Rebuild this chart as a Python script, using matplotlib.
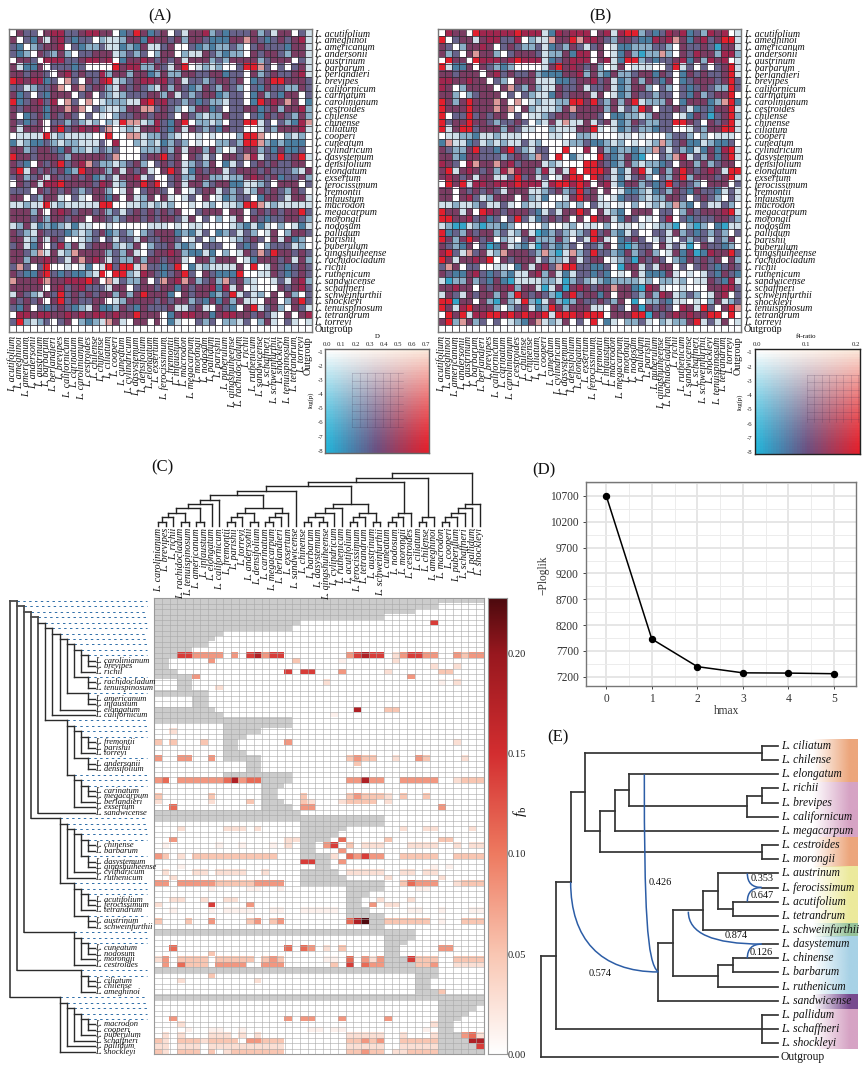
import numpy as np
import matplotlib
matplotlib.use("Agg")
import matplotlib.pyplot as plt
from matplotlib.colors import LinearSegmentedColormap, to_rgb
from matplotlib.patches import PathPatch
from matplotlib.path import Path

W, H = 868, 1066
SERIF = "Liberation Serif"
plt.rcParams["font.family"] = SERIF
plt.rcParams["mathtext.fontset"] = "custom"
plt.rcParams["mathtext.rm"] = SERIF
plt.rcParams["mathtext.it"] = SERIF + ":italic"

# ---------------------------------------------------------------- data
TAXA = ["L. acutifolium", "L. ameghinoi", "L. americanum", "L. andersonii", "L. austrinum",
        "L. barbarum", "L. berlandieri", "L. brevipes", "L. californicum", "L. carinatum",
        "L. carolinianum", "L. cestroides", "L. chilense", "L. chinense", "L. ciliatum",
        "L. cooperi", "L. cuneatum", "L. cylindricum", "L. dasystemum", "L. densifolium",
        "L. elongatum", "L. exsertum", "L. ferocissimum", "L. fremontii", "L. infaustum",
        "L. macrodon", "L. megacarpum", "L. morongii", "L. nodosum", "L. pallidum",
        "L. parishii", "L. puberulum", "L. qingshuiheense", "L. rachidocladum", "L. richii",
        "L. ruthenicum", "L. sandwicense", "L. schaffneri", "L. schweinfurthii", "L. shockleyi",
        "L. tenuispinosum", "L. tetrandrum", "L. torreyi", "Outgroup"]

CELL_COLORS = {"w": "#ffffff", "l": "#cfdfe9", "b": "#8aaec6", "s": "#4a7ea0", "p": "#67628a",
               "m": "#7a3c62", "r": "#a0264e", "x": "#e21f2d", "k": "#dc9a9a", "c": "#35a5c8"}

HEAT_A = [
 "wmppwmrrppm rrmmwspxmsp mwplmmrbpsp ppmbplmmwpl",
 "mwpsmlmrpsp pwbllbmmsrm mpmbmmpsssm mkmpspmpmrl",
 "pswbpmmrwps bbpllsbsmll pmwwpsbsbbp bwpmpppsmml",
 "psbwmpbmbwp pmmmlbpbpwb mmwbllmpbsb bwmpmmpbmml",
 "wmmpwrrrppm rrmrwsmmrmp mpmlmmmbpbm mmmbpmmmwpl",
 "mlssmwpppsp wwwwxmrrbbm plmxwlblbww pxxkpwpwpml",
 "mmpmmpwmrpm pprbmmbmmsb mbbmmppmmsp pwmbpmppmrl",
 "xrmrrspwkpw mprxlbpmrrm rpmlppbpmmp mwspmxxmmmp",
 "pplbppmkwmk pmmblmpmpbl mbmpsbmpbmp bwpsmppbbmp",
 "mspwpsmmmwp mwpblbpppmm bmlpbpmmsbp pwsmbpsmmwp",
 "xspmrprwkpw kwlbbbllrxm rppbpspbblp pwsxmrmkmws",
 "mpmmmsmmkmk wpbllbmmkkp mpbwbmmspwp pmmspmbmmrb",
 "mwspmsmpmpw pwlwbppmmpm mpwmpblbbmp pwpsmpmpbmb",
 "mpspmwppbpb lbwblxkklbr psmxwbblbwp pxxlpwpbsrk",
 "mlmmmwmxpmr mrpkwlblmmr psmlmpbpsmp pwwlpbmmmrl",
 "wllllxlblll lwwxwwkklbb pblwwlwlwww bxxkwwwblbw",
 "slbsspblbbl llpwrwwblbl sbpbwlwwbbp bxxkbsbsssw",
 "mmbpmmpsmbb lbpbpwwwbbb pbmlmmbmbwl pmmbpsmsspw",
 "xmmpmmmpbmm mmmpkwwwpmm xpmwmplpwmm pkrlppxpmxl",
 "mpswmpmxpmr kpbblbpmbwp mpmlbpbmwsl pwpmpmppmmw",
 "mxlmpmpmsbx mmmbmlmpmlw mxmlsmpmmlp mmmpmpppblm",
 "pmbpmlmppmp msbplmmrlpw wpmbbmmbblb bmrmpmsppmb",
 "wmpmlrrxmmm mprmlbmmxmx wpmlmmbpmms sllbpwmmmwp",
 "pppwmpmpmpb pmmbwlmwpmm pwmwlpmmlpb plbmpmpbmpw",
 "mmwpbmmlwpl wmmsmwmlbmw mlwlpwmwlsb ppwsmmplmml",
 "llbllxlblll llxxwwllblb lbwwlwlbwll bxxklblllll",
 "mmmbmwmrmpm mpmbplpmpmp mpmwwpmmmwm mwpmpmpmmxp",
 "mmmpmbmmpmm wmmpbpmmpmp mmplmwpwbwl mwmpsppmmpb",
 "lbmlsbsblsl lwwlwwwwwll lwlwllwwwwl bslslwbwlsl",
 "mpblmpppsbl bpmsbpbwbpm mmsbslpwsbp lpbwlmwbmmp",
 "mmlbmlmpwwl bpwplpplmpp mmpwlpwbwwl bpmpwmlmsbw",
 "pmlsmwprbml pmmmblbmwbp pmbsbwpppww pspwbppplbw",
 "mmpbklmlbkm mmmbpbmlwpm mrmbsslswbw lmpkpxmmpmp",
 "mmbmmrmplmk mrmlpbbmbmm pmmlwmmbmmm wlsmmmpmlmb",
 "pkpwpxwwlwl swlxpxxlkpp spxwslbllll mwxwlmpspmp",
 "mpssmxpspss blxwxxblrmp spmxpwmpsss xwwllmpspmp",
 "kmmmrkmmrrr xmwklpbbmwp kmrkmbpmbkp mblwwlplmrb",
 "mmmmmwmrpmr ppplmmwpmmp mmsmpmmrsrl mwlwwwmpmrp",
 "lmpblmpxpmp mpmmbmbmxmm mswmpmmsbpx lplbwmwmbwp",
 "mpmpmwmxpmp pmmwlbmmmmp mpmmbpsmsmb mllwmmwbmxp",
 "psmwpspmpsb lmssbmpsmpp pmllpmlwmps wmxlpmbwmpl",
 "wrrmrrmmrmr mrrmrmmxmmm wsmrrmmsmrr mmpmplwmwmr",
 "pxblbpwpmwb sblkmlwmmwm wslwwpbpwbb lpwbmlwplwl",
 "wwwwwwwwwww wwwwwwwwwww wwwwwwwwwww wwwwwwwwwww",
]

HEAT_B = [
 "wrmmwxrrrrr xrrrlsrmrrr wmrlrxxbpsp rmrspbrmrwl",
 "xwpmmlmrrpp rwbllkmmxkr rmpbmmpssrm rkmsmrpmxxl",
 "mpwbmmrmwpm pbbplspbmpl pmwlssbbbpp bwmppmpcmml",
 "mbpwmkmmbwp mmmplbbmsrr wmwlsmbcbbk bwmprmmbrrb",
 "wxmmwxrrrmr xrrrlspmrrr wmrlsxxbpsp pmrsmbrmrwl",
 "xlssmwmpbsb wwwwlmxmrmp mbwlmwlllww pxlpwpwpmxl",
 "mmpmmmwmrpm ppmbsssmmrb mbsmbbpmmsm pwsmpmppmxl",
 "rrmmrmmwpbw mmmlllsspmm rpmlsbmbmps mwspmmmpmxp",
 "rmwbmmmmwmk pbmbllmppml ppmlsbmmbwp bwpspmpbbxp",
 "mmbwbpmmmwp wpbllsmpmmm lmwlsbmppbp pwpsmbpmmxw",
 "xmbmxmmmkmw kwlbllbbxxm xpbmbmxlbbb mwsmmmsbkxs",
 "xmmmxmmmkmk wmblllbmkmm mmbmlpbxmwp pmplspsmmxl",
 "xwppxpmpmmw pwllbpmmpmm mpwssbblbmp pwlsmpcpmxb",
 "xpmmxmmpbpp mpwblmlkllm lpmlsbmpbbp pxxmpwmpmxl",
 "xlmxxpmmmbm pllwwblllmm xlwlsbpbbsp pwwlpbmmxxl",
 "wllbbsllbll lwwwwllwwbb lwwwllwlwww bppbwbwlllw",
 "skllsplblbl lplbwwwlbbp ssblbwlwlbk bpmsslbsspw",
 "mpbbmxppsmx pblppwwxwwr wmbsbbsbbkp lpbslsmsrxl",
 "mmbsmmpppbp mpbkpwxwslw wxpsbmscwwp bkrlpbmsmxl",
 "rmpwrkmmkmr pmmmlblwwwx xmpsbmblbbs pwmmbmbpmmw",
 "mxlmrmpmbrk rmmbrlmlxwx xxmlslmxlsm bmxmpmrmlxx",
 "mrmpmlmmllp xpmlpwlmxxw xmplslpmbwp bmxbmmmpmxl",
 "wxmxlrrmrrr xrrrlrxxrxr wmrlsmmbpsp xpmpbwmmmwp",
 "mmwmpmpmplm mmllbpmbpxp mwmwlssblsp bmpsmppslpl",
 "mmwmrplbmmm wmblswwlmxm mlwlsppblbb mmpwpmpbwpl",
 "llbllbpllpl wbllwwbbwbw pllwlwbwlbl bkbswpllpbw",
 "xmmlmwxrmpm mmpslplmmxm wmlbswmmmwp pwbmpmmmrxl",
 "xxmmrpmspwp xplspmpmwmw xmmlsmpwlwp rwpspppmmpb",
 "lbcclbcbbsb wwwwbwwlbwl lwbwllwlwlb bcwbcbwscll",
 "xspbmpmmbpl bmlcsbpblbp xpmbslpwwpp lmbpspbpbwp",
 "xmbmxmpmwbl wpmbbbmbwpl xmlwspmpwlp lwpbpplpbmw",
 "mpbsmwpcsml bslcpbsbpwp pbmwscbppwm lplcwmppsbw",
 "rxplkpmlbkm mmpbkbclkbp xppbsmbpmbw lmsmcsrmmxp",
 "xmlmmrmxwmp mmmlpbblmlp mmwlbpcmpmp wbsmpmpmwmb",
 "pkmwppwwllw smlmrpkxxpp sspwcmmlplm mwpwpmpspmp",
 "mpssmrpspbs llmrbmlslpp spswlwmlsss mlwlwlpsmps",
 "lcbbmbpsmsc llllbblcbpb lbsbbbblbwb blbwllmpsrl",
 "mmrmmwmpmmr bmmlclmcmrm pmmkmmscrml wwlwwwmmrrp",
 "lmplmpmmbmb xmpmpbcmxpm msmwmmpbmbr mlbpbwlmrwp",
 "xxcmmwmbcmb lxbclmbcbmp pmpbmwcwbbp sllwlwbmlbp",
 "xmlrxmmmbwb pmlsbxmbmmm llwmpwmcmpm pwrmlxpwmxk",
 "wxmxlrrxxrx rxrrxlxxxrx xxwmmmxxcmp mrmrmmxxwxw",
 "mxbkmbpwpwl bsmklblmwpw xwslwbbplwb lbbmxlplmwl",
 "wwwwwwwwwww wwwwwwwwwww wwwwwwwwwww wwwwwwwwwww",
]

CLADE_1 = [[["L. carolinianum", "L. brevipes"], "L. richii"], ["L. rachidocladum", "L. tenuispinosum"]]
CLADE_2 = [[[CLADE_1, ["L. americanum", "L. infaustum"]], "L. elongatum"], "L. californicum"]
CLADE_3 = [[[["L. fremontii", "L. parishii"], "L. torreyi"], ["L. andersonii", "L. densifolium"]],
           [[["L. carinatum", "L. megacarpum"], "L. berlandieri"], "L. exsertum"]]
CLADE_4 = [[CLADE_2, CLADE_3], "L. sandwicense"]
CLADE_5 = [[[[["L. chinense", "L. barbarum"], ["L. dasystemum", "L. qingshuiheense"]], "L. cylindricum"],
            "L. ruthenicum"],
           [[["L. acutifolium", "L. ferocissimum"], "L. tetrandrum"], ["L. austrinum", "L. schweinfurthii"]]]
CLADE_6 = [[["L. cuneatum", "L. nodosum"], "L. morongii"], "L. cestroides"]
CLADE_7 = [["L. ciliatum", "L. chilense"], "L. ameghinoi"]
CLADE_8 = [[[[["L. macrodon", "L. cooperi"], "L. puberulum"], "L. schaffneri"], "L. pallidum"], "L. shockleyi"]
C_TREE = [[[[CLADE_4, CLADE_5], CLADE_6], CLADE_7], CLADE_8]

FB_LEVELS = {"P": .012, "L": .028, "S": .05, "T": .08, "U": .11, "V": .14, "D": .18, "K": .225}
FB_CELLS = [
 (4, "V", [36]),
 (10, "V", [3, 4, 12, 15, 16, 26, 28, 29, 33, 34]), (10, "D", [13, 27]),
 (10, "T", [5, 6, 7, 8, 10, 14, 25, 32, 35, 36, 39, 41, 42]), (10, "S", [40]), (10, "L", [31]),
 (11, "T", [7]), (11, "S", [18]), (11, "P", [24]), (11, "L", [31]),
 (12, "L", [36, 39]),
 (13, "V", [17, 19, 20]), (13, "T", [24]), (13, "L", [30]), (13, "S", [37, 38]),
 (14, "T", [5, 33]),
 (15, "L", [22, 39]), (15, "P", [37]),
 (16, "L", [8]),
 (20, "D", [26]), (20, "S", [30, 31]),
 (21, "P", [23]),
 (24, "L", [2]),
 (26, "S", [0, 2, 6]), (26, "T", [17]), (26, "L", [39]),
 (29, "T", [0, 3, 4, 7, 26, 34]), (29, "S", [25, 27, 28, 35]), (29, "L", [31, 40]),
 (30, "S", [26]),
 (33, "T", [0, 3, 4, 5, 6, 7, 8, 11, 25, 26, 28, 29, 32, 33, 34, 35, 36]), (33, "U", [1, 9, 12, 13]),
 (33, "D", [10, 27]), (33, "S", [40, 41, 42]), (33, "L", [39]),
 (36, "S", [0, 7, 19, 25, 27, 28, 29, 32, 35]), (36, "T", [26]), (36, "L", [30]),
 (37, "L", [0, 7, 20, 24, 30]), (37, "S", [12, 19, 25, 26, 27, 28]),
 (38, "U", [2]), (38, "T", [19, 20, 37]),
 (42, "L", [3, 9, 10, 11, 13, 32, 35, 36, 41]),
 (44, "T", [2]), (44, "L", [17, 18]), (44, "U", [24]), (44, "S", [30, 37, 38]),
 (45, "P", [1, 8, 11, 15]), (45, "L", [17, 27, 28, 29, 33, 34, 35, 36, 39, 41, 42]),
 (45, "T", [22]), (45, "V", [23]), (45, "S", [25]),
 (46, "T", [24]),
 (47, "T", [0, 26, 28, 29]), (47, "S", [1, 5, 6, 7, 8, 9, 10, 11, 12, 13, 14, 15, 32, 33, 34, 35, 36, 39, 40, 41, 42]),
 (47, "L", [3, 23]), (47, "U", [25]), (47, "V", [27]),
 (48, "V", [19, 20]), (48, "T", [24]),
 (49, "P", [3, 36, 38]),
 (50, "L", [1, 5, 6, 8, 9, 10, 11, 14, 25, 26, 27, 28, 29, 32, 33, 35, 36]),
 (51, "L", [2, 30, 37]),
 (52, "T", [0, 1, 3, 4, 5, 6, 7, 13, 14, 15, 16, 34, 35, 36]), (52, "S", [8, 9, 10, 11, 12, 32, 40, 41, 42]),
 (52, "L", [39]), (52, "U", [33]),
 (53, "P", [7, 12, 13, 16, 34, 35]),
 (55, "L", [2, 3, 6, 9, 10, 29, 33]),
 (56, "L", [0, 30, 31]), (56, "V", [7]), (56, "T", [12, 28]),
 (57, "P", [2, 7, 9, 10, 11, 12, 15, 16, 19, 20, 21, 22, 23, 33, 34, 37, 41, 42]),
 (59, "S", [0, 4, 12, 15, 30, 31, 32, 33, 34, 35, 40, 41, 42]), (59, "T", [7, 13, 16]),
 (59, "U", [25]), (59, "D", [26]), (59, "K", [27]), (59, "P", [37]),
 (64, "U", [2, 17, 19]), (64, "T", [20, 37, 38]), (64, "L", [22]), (64, "S", [24]),
 (65, "S", [7]),
 (66, "L", [0, 28]), (66, "T", [1, 15, 27, 29]), (66, "S", [3, 4, 5, 6, 8, 9, 10, 11, 12, 14, 16, 34, 35, 36, 39, 40, 41, 42]),
 (66, "P", [22, 23]), (66, "U", [25]), (66, "V", [33]),
 (67, "T", [1, 8, 9, 10, 11, 14, 15, 16, 28, 29, 36]), (67, "U", [3, 27]), (67, "S", [4, 5, 6, 23, 34, 35]),
 (67, "V", [25]), (67, "L", [39, 40, 41, 42]),
 (69, "S", [7]),
 (70, "L", [3, 13]),
 (72, "S", [37]),
 (77, "T", [2, 17, 19, 20, 24, 30]),
 (78, "L", [3, 36]),
 (79, "P", [4, 7, 8, 11, 20, 21, 23, 24, 35]),
 (80, "L", [1, 3, 7, 8, 9, 11, 13, 25, 26, 27, 28, 29, 32, 36, 42]), (80, "T", [40]), (80, "U", [41]),
 (81, "S", [0, 3, 4, 5, 7, 8, 9, 10, 14, 15, 16, 25, 26, 28, 32, 33, 34, 35, 36]), (81, "T", [12, 13, 27, 29]),
 (81, "L", [1, 6]), (81, "D", [41, 42]),
 (82, "L", [0, 1, 3, 4, 5, 7, 8, 9, 10, 11, 12, 13, 14, 15, 16, 25, 26, 27, 28, 29, 32, 33, 34, 35, 36]), (82, "V", [42]),
 (83, "S", [0, 3, 4, 5, 7, 10, 11, 12, 13, 14, 15, 16, 25, 26, 28, 29, 33, 34, 35, 36]),
 (83, "L", [1, 9, 31, 32]), (83, "T", [27]),
]
FB_TICKS = [0.00, 0.05, 0.10, 0.15, 0.20]

HMAX = [0, 1, 2, 3, 4, 5]
PLOGLIK = [10700, 7930, 7395, 7275, 7270, 7258]

E_LEAVES = ["L. ciliatum", "L. chilense", "L. elongatum", "L. richii", "L. brevipes", "L. californicum",
            "L. megacarpum", "L. cestroides", "L. morongii", "L. austrinum", "L. ferocissimum",
            "L. acutifolium", "L. tetrandrum", "L. schweinfurthii", "L. dasystemum", "L. chinense",
            "L. barbarum", "L. ruthenicum", "L. sandwicense", "L. pallidum", "L. schaffneri",
            "L. shockleyi", "Outgroup"]
# nodes: (depth, children); "H" marks the reticulate node
E_TREE = (33, [
    (78, [
        (122, [
            (165, [
                (695, ["L. ciliatum", "L. chilense"]),
                (210, [
                    (255, [
                        (298, ["L. elongatum",
                               (652, [(695, ["L. richii", "L. brevipes"]), "L. californicum"])]),
                        "L. megacarpum"]),
                    (695, ["L. cestroides", "L. morongii"])])]),
            ("H", (385, [
                (430, [
                    (520, [
                        (565, ["L. austrinum", (608, ["L. acutifolium", "L. tetrandrum"])]),
                        "L. schweinfurthii"]),
                    (565, [(608, ["L. chinense", "L. barbarum"]), "L. ruthenicum"])]),
                "L. sandwicense"]))]),
        (695, ["L. pallidum", "L. schaffneri", "L. shockleyi"])]),
    "Outgroup"])
E_STUBS = [("L. ferocissimum", 695), ("L. dasystemum", 695)]
E_BANDS = [(57, 185, "#eca67c"), (185, 350, "#d6a3c4"), (350, 440, "#eca67c"), (440, 610, "#ecea9c"),
           (610, 650, "#97c39a"), (650, 823, "#a8d2e6"), (823, 868, "#774a8e"), (868, 987, "#d6a3c4")]
E_WEIGHTS = [("0.426", 390, 487), ("0.353", 697, 476), ("0.647", 697, 528),
             ("0.874", 620, 648), ("0.126", 693, 697), ("0.574", 210, 761)]

# ---------------------------------------------------------------- helpers
fig = plt.figure(figsize=(W / 100, H / 100), dpi=100, facecolor="white")


def axpx(x0, y0, x1, y1):
    return fig.add_axes([x0 / W, 1 - y1 / H, (x1 - x0) / W, (y1 - y0) / H])


ov = fig.add_axes([0, 0, 1, 1], zorder=10)
ov.set_xlim(0, W)
ov.set_ylim(H, 0)
ov.axis("off")
ov.patch.set_alpha(0)


def label_style(t, size):
    return dict(fontsize=size, fontstyle="normal" if t == "Outgroup" else "italic", color="#111111")


def draw_heat(rows, rect):
    ax = axpx(*rect)
    grid = [r.replace(" ", "").ljust(44, "p")[:44] for r in rows]
    rgb = np.array([[to_rgb(CELL_COLORS[c]) for c in r] for r in grid])
    ax.imshow(rgb, aspect="auto", interpolation="nearest")
    n = len(TAXA)
    ax.set_xticks(np.arange(-.5, n), minor=True)
    ax.set_yticks(np.arange(-.5, n), minor=True)
    ax.grid(which="minor", color="#2e2a33", lw=.55)
    ax.set_xticks(range(n))
    ax.set_yticks(range(n))
    ax.set_xticklabels(TAXA, rotation=90)
    ax.set_yticklabels(TAXA)
    ax.yaxis.tick_right()
    ax.tick_params(which="both", length=0)
    ax.tick_params(axis="x", pad=3)
    ax.tick_params(axis="y", pad=2)
    for lb in list(ax.get_xticklabels()) + list(ax.get_yticklabels()):
        lb.set_fontsize(7.2)
        lb.set_fontstyle("normal" if lb.get_text() == "Outgroup" else "italic")
        lb.set_color("#111111")
    for s in ax.spines.values():
        s.set_color("#777777")
        s.set_linewidth(1)
    return ax


def bivar(u, s):
    """u: 0..1 left to right; s: 0..1 top to bottom."""
    stops = np.array([to_rgb("#22b5da"), to_rgb("#6b4f80"), to_rgb("#e3202c")])
    base = np.stack([np.interp(u, [0, .5, 1], stops[:, i]) for i in range(3)], -1)
    top = np.stack([np.interp(u, [0, 1], [1, c]) for c in to_rgb("#fbe8da")], -1)
    w = ((1 - s) ** 1.35)[..., None]
    return base * (1 - w) + top * w


def draw_legend(rect, xlim, xticks, xfmt, xname, ylim, border, gridbox, xname_pos, yname_pos):
    ax = axpx(*rect)
    uu, ss = np.meshgrid(np.linspace(0, 1, 40), np.linspace(0, 1, 40))
    ax.imshow(bivar(uu, ss), extent=[xlim[0], xlim[1], ylim[0], ylim[1]], aspect="auto",
              interpolation="nearest")
    ax.set_xlim(*xlim)
    ax.set_ylim(*ylim)
    ax.xaxis.tick_top()
    ax.set_xticks(xticks)
    ax.set_xticklabels([xfmt % t for t in xticks], fontsize=4.9, color="#222222")
    ax.set_yticks(range(-1, -9, -1))
    ax.set_yticklabels([str(t) for t in range(-1, -9, -1)], fontsize=4.9, color="#222222")
    ax.tick_params(length=0, pad=1.5)
    for s in ax.spines.values():
        s.set_color(border)
        s.set_linewidth(1)
    x0, x1, y0, y1, step = gridbox
    for x in np.arange(x0, x1 + .1, step):
        ov.plot([x, x], [y0, y1], color="#332244", lw=.4, alpha=.28)
    for y in np.arange(y0, y1 + .1, step):
        ov.plot([x0, x1], [y, y], color="#332244", lw=.4, alpha=.28)
    ov.text(*xname_pos, xname, fontsize=4.9, ha="center", va="center")
    ov.text(*yname_pos, "log(p)", fontsize=4.9, ha="center", va="center", rotation=90)


# ---------------------------------------------------------------- panels A, B
draw_heat(HEAT_A, (9.3, 29.3, 311.7, 331.8))
draw_heat(HEAT_B, (438, 29.3, 741.3, 332))
draw_legend((325, 349, 429, 452.7), (-.016, .721), [0, .1, .2, .3, .4, .5, .6, .7], "%.1f", "D",
            (-8.14, -.81), "#666666", (352, 403, 373, 427, 7.7), (377, 336), (311, 400))
draw_legend((754.7, 349.3, 859.7, 454), (-.004, .2076), [0, .1, .2], "%.1f", "f4-ratio",
            (-8.12, -.79), "#222222", (807, 859, 375, 422, 7.3), (806, 337), (739.7, 401.7))

for t, x, y in [("(A)", 160, 16.5), ("(B)", 600, 16.5), ("(C)", 162, 467), ("(D)", 544, 470), ("(E)", 558, 737)]:
    ov.text(x, y, t, fontsize=12, ha="center", va="center", color="#111111")

# ---------------------------------------------------------------- panel C
CX0, CX1, CY0, CY1 = 154.3, 483.7, 598.3, 1054.3
NROW = 84
NCOL = 43
COLW = (CX1 - CX0) / NCOL
ROWH = (CY1 - CY0) / NROW


def leaves(n):
    return [n] if isinstance(n, str) else [l for c in n for l in leaves(c)]


COLS = leaves(C_TREE)
COL_OF = {n: i for i, n in enumerate(COLS)}


def height(n):
    return 0 if isinstance(n, str) else 1 + max(height(c) for c in n)


fb = np.zeros((NROW, NCOL))
rows_info = []


def walk(n, parent, counter):
    r = counter[0]
    counter[0] += 1
    ps = leaves(parent)
    a, b = COL_OF[ps[0]], COL_OF[ps[-1]]
    fb[r, a:b + 1] = np.nan
    info = dict(node=n, row=r, kids=[])
    rows_info.append(info)
    if not isinstance(n, str):
        for c in n:
            info["kids"].append(walk(c, n, counter))
    return info


counter = [0]
root_kids = [walk(c, C_TREE, counter) for c in C_TREE]
for r, lvl, cols in FB_CELLS:
    for c in cols:
        fb[r, c] = FB_LEVELS[lvl]

fb_cmap = LinearSegmentedColormap.from_list(
    "fb", [(0, "#ffffff"), (.05 / .2275, "#f9c6b2"), (.10 / .2275, "#ee7a60"),
           (.15 / .2275, "#d32e30"), (.20 / .2275, "#98181f"), (1, "#4d0a0e")])
fb_cmap.set_bad("#cccccc")
axc = axpx(CX0, CY0, CX1, CY1)
axc.imshow(np.ma.masked_invalid(fb), cmap=fb_cmap, vmin=0, vmax=.2275, aspect="auto", interpolation="nearest")
axc.set_xticks(np.arange(-.5, NCOL), minor=True)
axc.set_yticks(np.arange(-.5, NROW), minor=True)
axc.grid(which="minor", color="#a8a8a8", lw=.4)
axc.set_xticks([])
axc.set_yticks([])
axc.tick_params(which="both", length=0)
for s in axc.spines.values():
    s.set_color("#999999")
    s.set_linewidth(.8)

axb = axpx(487.5, CY0, 506.5, CY1)
axb.imshow(np.linspace(.2275, 0, 256)[:, None], cmap=fb_cmap, vmin=0, vmax=.2275, aspect="auto",
           extent=[0, 1, 0, .2275])
axb.set_xticks([])
axb.yaxis.tick_right()
axb.set_yticks(FB_TICKS)
axb.set_yticklabels(["%.2f" % t for t in FB_TICKS], fontsize=7.6, color="#222222")
axb.tick_params(length=0, pad=.8)
for s in axb.spines.values():
    s.set_color("#999999")
    s.set_linewidth(.8)
ov.text(520, 811, r"$f_{\mathrm{b}}$", fontsize=11, rotation=90, ha="center", va="center", color="#111111")

TIPX, STEPX = 95, 7.1
DASH_END = 147


def row_y(r):
    return CY0 + ROWH * (r + .5)


def node_x(n):
    return TIPX - STEPX * height(n)


def draw_left(info, px):
    n = info["node"]
    y = row_y(info["row"])
    x = node_x(n)
    depth_col = "#2b2b2b" if x > 45 else "#4a4a4a"
    lw = 1.0 if x > 45 else 1.3
    ov.plot([px, x], [y, y], color=depth_col, lw=lw, solid_capstyle="projecting")
    if isinstance(n, str):
        ov.text(x + .3, y, n, fontsize=6.15, fontstyle="italic", ha="left", va="center", color="#111111")
    else:
        ov.plot([x, DASH_END], [y, y], color="#2f6ea8", lw=.7, ls=(0, (2.5, 3.5)), zorder=1)
        ov.plot([x, x], [y, row_y(info["kids"][-1]["row"])], color=depth_col, lw=lw, solid_capstyle="projecting")
        for k in info["kids"]:
            draw_left(k, x)


root_x = node_x(C_TREE)
ov.plot([root_x, root_x], [row_y(root_kids[0]["row"]), row_y(root_kids[-1]["row"])], color="#4a4a4a", lw=1.3)
for k in root_kids:
    draw_left(k, root_x)

TOP_TIP, TOP_STEP = 526, 4.4


def draw_top(n):
    if isinstance(n, str):
        return CX0 + COLW * (COL_OF[n] + .5)
    xs = [draw_top(c) for c in n]
    y = TOP_TIP - TOP_STEP * height(n)
    for c, x in zip(n, xs):
        ov.plot([x, x], [y, TOP_TIP - TOP_STEP * height(c)], color="#222222", lw=1)
    ov.plot([xs[0], xs[-1]], [y, y], color="#222222", lw=1, solid_capstyle="projecting")
    return (xs[0] + xs[-1]) / 2


draw_top(C_TREE)
for name, i in COL_OF.items():
    ov.text(CX0 + COLW * (i + .5), 528, name, fontsize=7.2, fontstyle="italic", rotation=90,
            ha="center", va="top", color="#111111")

# ---------------------------------------------------------------- panel D
axd = axpx(585.7, 482.3, 855.7, 686)
axd.set_xlim(-.452, 5.478)
axd.set_ylim(7020, 10965)
axd.set_xticks(HMAX)
axd.set_xticks(np.arange(.5, 5, 1), minor=True)
yt = np.arange(7200, 10701, 500)
axd.set_yticks(yt)
axd.set_yticks(np.arange(7450, 10960, 500), minor=True)
axd.set_yticklabels([str(t) for t in yt], fontsize=8.3, color="#333333")
axd.set_xticklabels([str(t) for t in HMAX], fontsize=8.3, color="#333333")
axd.grid(which="major", color="#e4e4e4", lw=1.3)
axd.grid(which="minor", color="#ececec", lw=.7)
axd.set_axisbelow(True)
axd.tick_params(which="minor", length=0)
axd.tick_params(which="major", length=2.5, width=.7, color="#444444", pad=2.5)
axd.plot(HMAX, PLOGLIK, color="black", lw=1.1, marker="o", ms=4.3)
for s in axd.spines.values():
    s.set_color("#777777")
    s.set_linewidth(1)
ov.text(727, 711, "hmax", fontsize=8.3, ha="center", va="center", color="#333333")
ov.text(543.5, 575, "\u2212Ploglik", fontsize=8.3, rotation=90, ha="center", va="center", color="#333333")

# ---------------------------------------------------------------- panel E
axe = axpx(530, 720, 868, 1066)
axe.set_xlim(0, 1014)
axe.set_ylim(1038, 0)
axe.axis("off")
E_Y0, E_DY, E_TIP = 78, 42.45, 745
leaf_y = {n: E_Y0 + E_DY * i for i, n in enumerate(E_LEAVES)}
ramp = np.clip((np.linspace(760, 985, 128) - 850) / 110, 0, 1)
for y0, y1, col in E_BANDS:
    rgba = np.ones((1, 128, 4))
    rgba[..., :3] = to_rgb(col)
    rgba[..., 3] = ramp
    axe.imshow(rgba, extent=[760, 985, y1, y0], aspect="auto", interpolation="bilinear", zorder=1)
axe.set_xlim(0, 1014)
axe.set_ylim(1038, 0)
TREE_KW = dict(color="#333333", lw=1.25, solid_capstyle="projecting", zorder=3)
node_pos = {}


def draw_e(n):
    if isinstance(n, str):
        return E_TIP, leaf_y[n]
    hybrid = n[0] == "H"
    if hybrid:
        n = n[1]
    x, kids = n
    pts = [draw_e(k) for k in kids]
    y = (pts[0][1] + pts[-1][1]) / 2
    blue = any(isinstance(k, tuple) and k[0] == "H" for k in kids)
    axe.plot([x, x], [pts[0][1], y if blue else pts[-1][1]], **TREE_KW)
    for k, (cx, cy) in zip(kids, pts):
        if isinstance(k, tuple) and k[0] == "H":
            node_pos["hyb_from"] = (x, y)
            node_pos["hyb_to"] = (cx, cy)
            continue
        axe.plot([x, cx], [cy, cy], **TREE_KW)
    return x, y


rx, ry = draw_e(E_TREE)
for name, x in E_STUBS:
    axe.plot([x, E_TIP], [leaf_y[name]] * 2, **TREE_KW)
for name, y in leaf_y.items():
    axe.text(752, y, name, ha="left", va="center", zorder=5, **label_style(name, 8.3))
for t, x, y in E_WEIGHTS:
    axe.text(x, y, t, fontsize=7.4, ha="center", va="center", color="#111111", zorder=5)

hfx, hfy = node_pos["hyb_from"]
htx, hty = node_pos["hyb_to"]
lf = leaf_y["L. ferocissimum"]
ld = leaf_y["L. dasystemum"]
BLUE = dict(fc="none", ec="#2c5da6", lw=1.1, zorder=4)
CURVES = [
    ([(hfx, hfy), (hfx, hty - 100), (hfx + 88, hty), (htx, hty)], "c4"),
    ([(343, leaf_y["L. elongatum"]), (343, 560), (350, hty - 25), (htx, hty)], "c4"),
    ([(652, leaf_y["L. austrinum"]), (652, lf), (695, lf)], "c3"),
    ([(652, leaf_y["L. acutifolium"]), (652, lf), (695, lf)], "c3"),
    ([(475, 575), (475, ld), (695, ld)], "c3"),
    ([(652, leaf_y["L. chinense"]), (652, ld), (695, ld)], "c3"),
]
for pts, kind in CURVES:
    codes = [Path.MOVETO] + ([Path.CURVE4] * 3 if kind == "c4" else [Path.CURVE3] * 2)
    axe.add_patch(PathPatch(Path(pts, codes), **BLUE))

fig.savefig("out.png", dpi=100, facecolor="white")
